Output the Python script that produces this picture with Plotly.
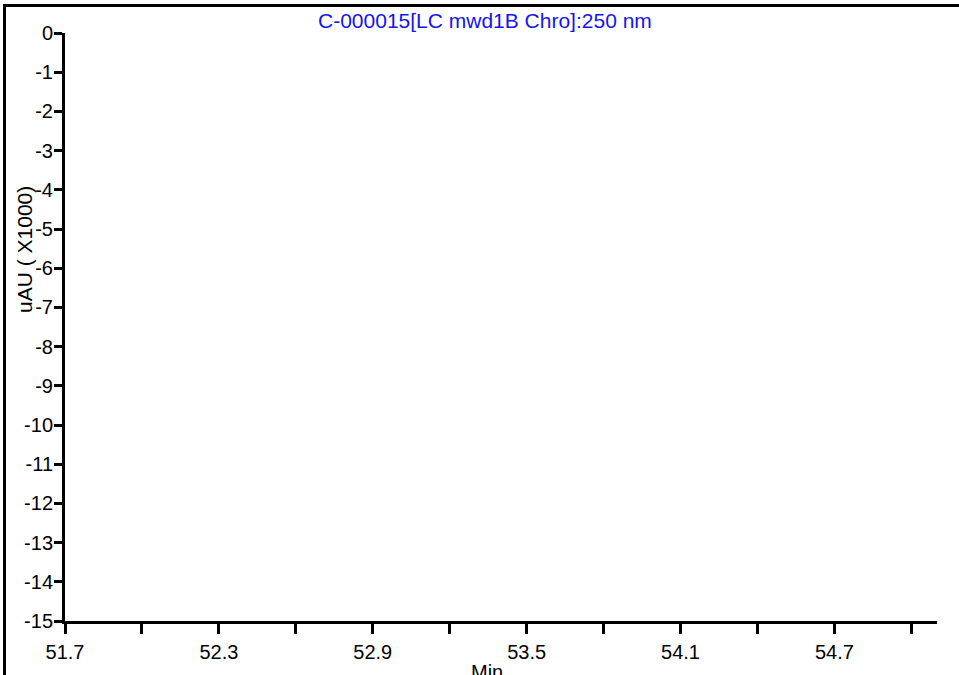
import plotly.graph_objects as go

# ---- data (chromatogram window shows no signal) ----
title_text = "C-000015[LC mwd1B Chro]:250 nm"
x_title = "Min"
y_title = "uAU ( X1000)"
x_range = [51.7, 55.1]
y_range = [-15, 0]
x_tick_vals = [51.7, 52.3, 52.9, 53.5, 54.1, 54.7]
x_tick_text = ["51.7", "52.3", "52.9", "53.5", "54.1", "54.7"]
x_minor_dtick = 0.3
y_tick_vals = [0, -1, -2, -3, -4, -5, -6, -7, -8, -9, -10, -11, -12, -13, -14, -15]
y_tick_text = ["0", "-1", "-2", "-3", "-4", "-5", "-6", "-7", "-8", "-9", "-10",
               "-11", "-12", "-13", "-14", "-15"]
signal_time = []
signal_value = []

FONT = "Liberation Sans, Arial, sans-serif"
L, R, T, B = 65, 22, 33, 54
W, H = 959, 675
PW, PH = W - L - R, H - T - B


def px(xp):
    return (xp - L) / PW


def py(yp):
    return 1 - (yp - T) / PH


fig = go.Figure()
fig.add_trace(go.Scatter(x=signal_time, y=signal_value, mode="lines",
                         line=dict(color="black", width=1), showlegend=False))

fig.update_layout(
    width=W, height=H,
    margin=dict(l=L, r=R, t=T, b=B, autoexpand=False),
    paper_bgcolor="white", plot_bgcolor="white",
    font=dict(family=FONT, size=20, color="black"),
    showlegend=False,
)

fig.update_xaxes(
    range=x_range, showgrid=False, zeroline=False, automargin=False,
    showline=True, linecolor="black", linewidth=3,
    tickmode="array", tickvals=x_tick_vals, ticktext=x_tick_text,
    ticks="outside", ticklen=10, tickwidth=2.5, tickcolor="black",
    tickfont=dict(family=FONT, size=20, color="black"),
    ticklabelstandoff=1,
    minor=dict(tick0=x_range[0], dtick=x_minor_dtick, ticks="outside", ticklen=10,
               tickwidth=2.5, tickcolor="black", showgrid=False),
)
fig.update_yaxes(
    range=y_range, showgrid=False, zeroline=False, automargin=False,
    showline=True, linecolor="black", linewidth=3,
    tickmode="array", tickvals=y_tick_vals, ticktext=y_tick_text,
    ticks="outside", ticklen=8, tickwidth=2.5, tickcolor="black",
    tickfont=dict(family=FONT, size=20, color="black"),
    ticklabelstandoff=-3,
)

# outer frame (left and top edges visible)
fig.add_shape(type="rect", xref="paper", yref="paper",
              x0=px(3), x1=px(W + 5), y0=py(7), y1=py(4),
              line=dict(width=0), fillcolor="black", layer="above")
fig.add_shape(type="rect", xref="paper", yref="paper",
              x0=px(3), x1=px(6), y0=py(H + 5), y1=py(4),
              line=dict(width=0), fillcolor="black", layer="above")

fig.add_annotation(text=title_text, xref="paper", yref="paper",
                   x=px(485), y=py(21), showarrow=False,
                   xanchor="center", yanchor="middle",
                   font=dict(family=FONT, size=21, color="#1414EE"))
fig.add_annotation(text=x_title, xref="paper", yref="paper",
                   x=px(487), y=py(672), showarrow=False,
                   xanchor="center", yanchor="middle",
                   font=dict(family=FONT, size=20, color="black"))
fig.add_annotation(text=y_title, xref="paper", yref="paper",
                   x=px(24), y=py(250), showarrow=False,
                   xanchor="center", yanchor="middle", textangle=-90,
                   font=dict(family=FONT, size=21, color="black"))

post = (
    "document.body.style.margin='0';"
    "var fr=document.createElement('div');"
    "fr.style.cssText='position:fixed;left:3px;top:4px;width:960px;height:3px;"
    "background:#000;z-index:1000;pointer-events:none;';"
    "document.body.appendChild(fr);"
)

fig.write_html("out.html", config={"displayModeBar": False}, post_script=post)
